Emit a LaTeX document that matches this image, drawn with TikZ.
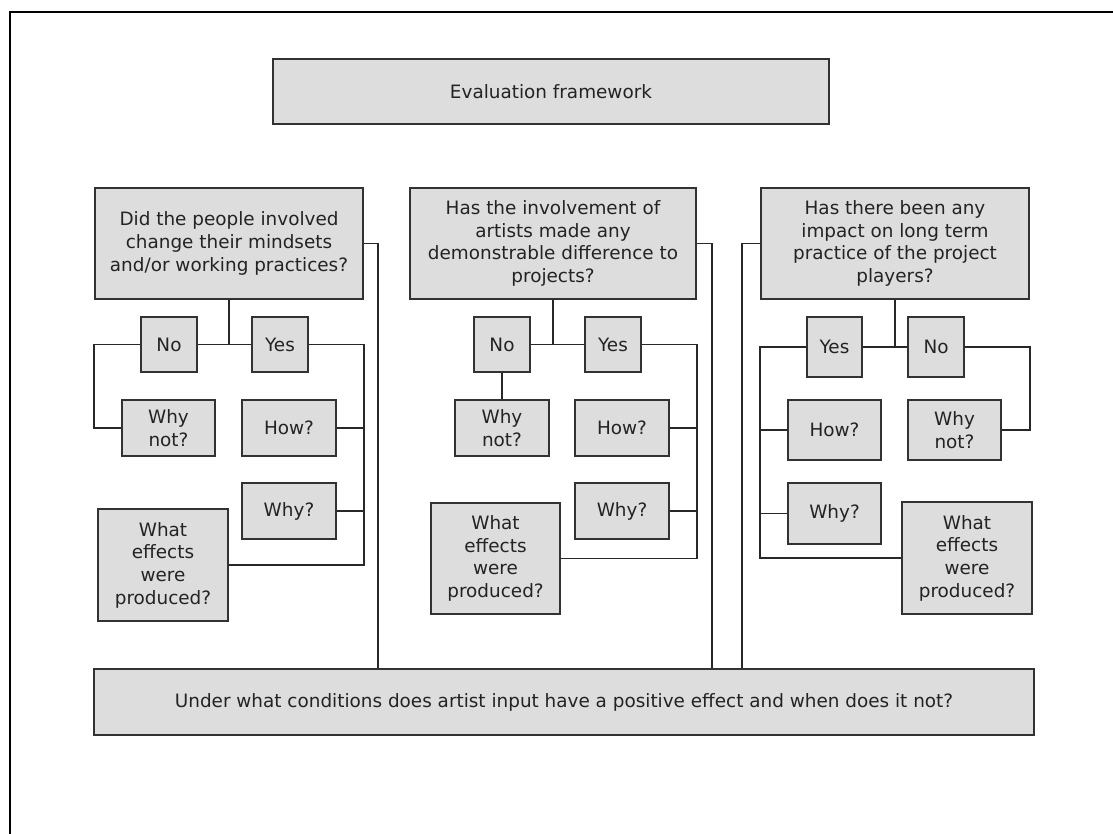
\documentclass[tikz,border=0pt]{standalone}
\usepackage{fontspec}
\setmainfont{DejaVu Sans}
\definecolor{boxfill}{RGB}{221,221,221}
\definecolor{boxline}{RGB}{50,50,50}
\definecolor{linecol}{RGB}{40,40,40}
\definecolor{textcol}{RGB}{35,35,35}
\tikzset{
  qbox/.style={draw=boxline, fill=boxfill, line width=1.7pt, inner sep=0pt, align=center,
    text=textcol, font=\fontsize{18.4}{22.7}\selectfont},
  sz/.style 2 args={minimum width=#1, minimum height=#2},
  conn/.style={draw=linecol, line width=1.7pt},
  frame/.style={draw=black, line width=2pt}
}
\begin{document}
\begin{tikzpicture}[x=1pt,y=-1pt]
\useasboundingbox (0,0) rectangle (1113,834);
\draw[frame] (10,834) -- (10,12) -- (1113,12);

% main boxes
\node[qbox, sz={556}{65}] (title) at (551,91.5) {Evaluation framework};
\node[qbox, sz={268}{111}] (q1) at (229,243.5) {Did the people involved\\change their mindsets\\and/or working practices?};
\node[qbox, sz={286}{111}] (q2) at (553,243.5) {Has the involvement of\\artists made any\\demonstrable difference to\\projects?};
\node[qbox, sz={268}{111}] (q3) at (895,243.5) {Has there been any\\impact on long term\\practice of the project\\players?};
\node[qbox, sz={940}{66}] (bottom) at (564,702) {Under what conditions does artist input have a positive effect and when does it not?};

% column 1
\node[qbox, sz={56}{55}] (n1) at (169,344.5) {No};
\node[qbox, sz={56}{55}] (y1) at (280,344.5) {Yes};
\node[qbox, sz={93}{56}] (wn1) at (168.5,428) {Why\\not?};
\node[qbox, sz={94}{56}] (how1) at (289,428) {How?};
\node[qbox, sz={94}{56}] (why1) at (289,511) {Why?};
\node[qbox, sz={130}{112}] (we1) at (163,565) {What\\effects\\were\\produced?};

% column 2
\node[qbox, sz={56}{55}] (n2) at (502,344.5) {No};
\node[qbox, sz={56}{55}] (y2) at (613,344.5) {Yes};
\node[qbox, sz={94}{56}] (wn2) at (502,428) {Why\\not?};
\node[qbox, sz={94}{56}] (how2) at (622,428) {How?};
\node[qbox, sz={94}{56}] (why2) at (622,511) {Why?};
\node[qbox, sz={129}{111}] (we2) at (495.5,558.5) {What\\effects\\were\\produced?};

% column 3
\node[qbox, sz={55}{60}] (y3) at (834.5,347) {Yes};
\node[qbox, sz={56}{60}] (n3) at (936,347) {No};
\node[qbox, sz={93}{60}] (how3) at (834.5,430) {How?};
\node[qbox, sz={93}{61}] (why3) at (834.5,513.5) {Why?};
\node[qbox, sz={93}{60}] (wn3) at (954.5,430) {Why\\not?};
\node[qbox, sz={130}{112}] (we3) at (967,558) {What\\effects\\were\\produced?};

% rail coordinates down to the bottom box
\coordinate (r1) at (378,669);
\coordinate (r2) at (712,669);
\coordinate (r3) at (742,669);

% column 1 connectors
\draw[conn] (q1.east) -| (r1 |- bottom.north);
\draw[conn] (q1.south) -- (q1.south |- n1.east);
\draw[conn] (n1.east) -- (y1.west);
\draw[conn] (n1.west) -| (q1.west |- wn1.west) -- (wn1.west);
\draw[conn] (y1.east) -| (q1.east |- we1.east) -- (we1.east);
\draw[conn] (how1.east) -- (how1.east -| q1.east);
\draw[conn] (why1.east) -- (why1.east -| q1.east);

% column 2 connectors
\draw[conn] (q2.east) -| (r2 |- bottom.north);
\draw[conn] (q2.south) -- (q2.south |- n2.east);
\draw[conn] (n2.east) -- (y2.west);
\draw[conn] (n2.south) -- (wn2.north);
\draw[conn] (y2.east) -| (q2.east |- we2.east) -- (we2.east);
\draw[conn] (how2.east) -- (how2.east -| q2.east);
\draw[conn] (why2.east) -- (why2.east -| q2.east);

% column 3 connectors
\draw[conn] (q3.west) -| (r3 |- bottom.north);
\draw[conn] (q3.south) -- (q3.south |- y3.east);
\draw[conn] (y3.east) -- (n3.west);
\draw[conn] (y3.west) -| (q3.west |- we3.west) -- (we3.west);
\draw[conn] (how3.west) -- (how3.west -| q3.west);
\draw[conn] (why3.west) -- (why3.west -| q3.west);
\draw[conn] (n3.east) -| (q3.east |- wn3.east) -- (wn3.east);
\end{tikzpicture}
\end{document}
